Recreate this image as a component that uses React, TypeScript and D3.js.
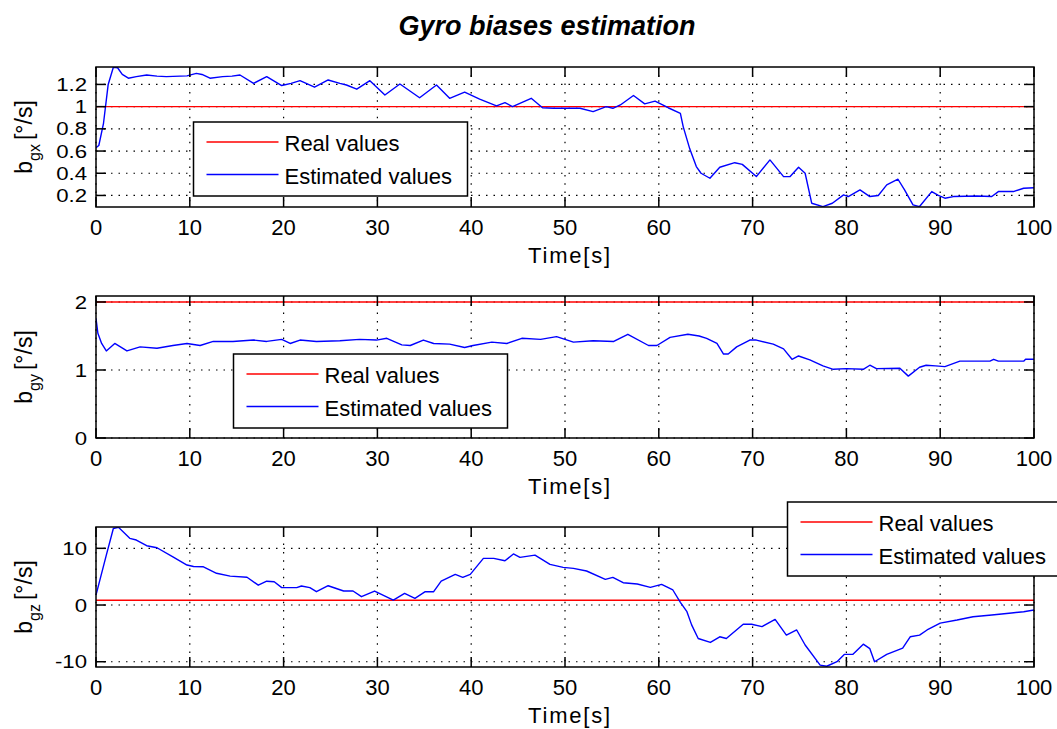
import React from "react";
import * as d3 from "d3";

const timeTicks = [0, 10, 20, 30, 40, 50, 60, 70, 80, 90, 100];
const gxTicks = [0.2, 0.4, 0.6, 0.8, 1, 1.2];
const gyTicks = [0, 1, 2];
const gzTicks = [-10, 0, 10];

const realGx = 1;
const realGy = 2;
const realGz = 0.85;

const estGx: [number, number][] = [
  [0, 0.63], [0.3, 0.65], [0.8, 0.85], [1.3, 1.2], [1.85, 1.355], [2.3, 1.35], [2.8, 1.29], [3.45, 1.256],
  [4.3, 1.27], [5.4, 1.285], [6.5, 1.275], [7.5, 1.27], [9.7, 1.277], [10.7, 1.3], [11.3, 1.29], [12.15, 1.256],
  [13.5, 1.27], [14.5, 1.275], [15.35, 1.285], [16.8, 1.21], [18.2, 1.27], [19.8, 1.19], [20.8, 1.21], [21.75, 1.234],
  [23.3, 1.175], [24.75, 1.24], [26, 1.21], [26.7, 1.195], [27.8, 1.157], [29.2, 1.234], [30.8, 1.105], [32.4, 1.204],
  [34.5, 1.08], [36.3, 1.195], [37.7, 1.075], [39.3, 1.13], [40.9, 1.067], [42.7, 1.006], [43.6, 1.036], [44.4, 1.0],
  [46.4, 1.075], [47.6, 0.99], [48.8, 0.985], [51.6, 0.985], [53, 0.955], [54.4, 1.0], [55.1, 0.985], [55.9, 1.015],
  [57.3, 1.1], [58.5, 1.025], [59.6, 1.05], [61, 0.99], [62.3, 0.94], [62.6, 0.82], [63.3, 0.62], [64, 0.46],
  [64.5, 0.4], [65.45, 0.355], [66.5, 0.454], [68.1, 0.495], [68.9, 0.48], [70.4, 0.37], [71.85, 0.52], [73.3, 0.37],
  [74, 0.37], [74.9, 0.454], [75.6, 0.4], [76.3, 0.13], [77.5, 0.1], [78.5, 0.13], [79.7, 0.205], [80.2, 0.19],
  [81.45, 0.25], [82.5, 0.19], [83.4, 0.2], [84.3, 0.295], [85.5, 0.346], [86.2, 0.25], [87.1, 0.115], [87.8, 0.1],
  [89.1, 0.235], [89.8, 0.2], [90.5, 0.175], [91.4, 0.19], [93.9, 0.195], [95.5, 0.19], [96.2, 0.235], [97.8, 0.235],
  [98.9, 0.265], [100, 0.27],
];

const estGy: [number, number][] = [
  [0, 1.76], [0.2, 1.54], [0.6, 1.39], [1.1, 1.28], [2, 1.39], [3.3, 1.28], [4.7, 1.34], [6.5, 1.32],
  [8.2, 1.36], [9.7, 1.39], [11.1, 1.36], [12.5, 1.42], [14.6, 1.42], [16.8, 1.44], [18.2, 1.42], [19.8, 1.45],
  [20.7, 1.39], [21.75, 1.44], [23.5, 1.42], [26, 1.43], [28.1, 1.45], [29.9, 1.44], [31, 1.466], [32.6, 1.37],
  [33.5, 1.36], [34.9, 1.44], [36, 1.39], [37.7, 1.38], [39.3, 1.33], [40.2, 1.36], [42.2, 1.41], [43.8, 1.39],
  [45.4, 1.466], [47.4, 1.45], [49.1, 1.49], [50.9, 1.41], [53, 1.43], [55.2, 1.42], [56.7, 1.525], [58.9, 1.36],
  [59.8, 1.36], [61.2, 1.48], [63.1, 1.525], [64.3, 1.5], [65.1, 1.466], [66.2, 1.39], [66.9, 1.235], [67.4, 1.235],
  [68.3, 1.34], [69.7, 1.44], [70.4, 1.44], [72.2, 1.38], [73.3, 1.31], [74.2, 1.157], [74.9, 1.206], [76.1, 1.15],
  [77.5, 1.06], [78.6, 1.01], [80, 1.02], [81.8, 1.01], [82.5, 1.07], [83.2, 1.02], [85.7, 1.025], [86.6, 0.91],
  [87.8, 1.04], [88.5, 1.07], [89.5, 1.06], [90.5, 1.05], [92.1, 1.13], [95.3, 1.13], [95.7, 1.157], [96.2, 1.13],
  [98.9, 1.13], [99.1, 1.157], [100, 1.157],
];

const estGz: [number, number][] = [
  [0, 1.76], [1.1, 8.8], [1.85, 13.5], [2.4, 13.7], [3.6, 11.76], [4.3, 11.46], [5.4, 10.46], [6.5, 10.1],
  [8.2, 8.5], [9.7, 7.05], [10.4, 6.8], [11.4, 6.76], [12.85, 5.6], [14.3, 5.1], [16.1, 4.9], [17.3, 3.5],
  [18.2, 4.2], [19.0, 4.1], [19.8, 3.06], [21.4, 3.06], [21.9, 3.35], [22.8, 3.06], [23.5, 2.35], [24.75, 3.4],
  [26.4, 2.47], [27.4, 2.47], [28.3, 1.47], [29.7, 2.47], [31.7, 0.88], [32.9, 2.06], [34, 1.18], [35.1, 2.35],
  [36, 2.35], [36.8, 4.23], [38.3, 5.4], [39.1, 4.88], [39.9, 5.4], [41.3, 8.23], [42.4, 8.23], [43.6, 7.8],
  [44.5, 9.0], [45.2, 8.4], [46.8, 8.8], [48.4, 7.17], [49.8, 6.64], [50.9, 6.47], [52.3, 6.0], [54.3, 4.53],
  [55.1, 4.88], [56.2, 3.93], [57.7, 3.7], [59.1, 3.12], [60.3, 3.65], [61.5, 2.65], [62.3, 0.47], [63, -1.18],
  [63.5, -3.5], [64.2, -5.9], [65.5, -6.6], [66.5, -5.6], [67.2, -5.9], [69, -3.4], [69.9, -3.4], [71, -3.8],
  [72.4, -2.53], [73.6, -5.3], [74.7, -4.4], [75.6, -7.05], [77.2, -10.6], [77.9, -10.8], [79, -10], [79.8, -8.7],
  [80.7, -8.7], [81.8, -6.9], [82.5, -7.7], [83.0, -10], [84.3, -8.7], [86, -7.6], [86.8, -5.6], [87.8, -5.3],
  [88.6, -4.4], [90, -3.2], [91.8, -2.65], [93.5, -2.06], [95.5, -1.76], [97.6, -1.4], [98.9, -1.18], [100, -0.88],
];

const legendLabels = ["Real values", "Estimated values"];

const W = 1057;
const H = 729;
const LEFT = 96;
const RIGHT = 1034;
const FONT = "'Liberation Sans', Arial, Helvetica, sans-serif";

type PanelProps = {
  id: string;
  top: number;
  bottom: number;
  yDomain: [number, number];
  yTicks: number[];
  real: number;
  est: [number, number][];
  sub: string;
  legend: { x: number; y: number; w: number };
};

function Panel({ id, top, bottom, yDomain, yTicks, real, est, sub, legend }: PanelProps) {
  const x = d3.scaleLinear().domain([0, 100]).range([LEFT, RIGHT]);
  const y = d3.scaleLinear().domain(yDomain).range([bottom, top]);
  const line = d3
    .line<[number, number]>()
    .x((d) => x(d[0]))
    .y((d) => y(d[1]));
  const realData: [number, number][] = [
    [0, real],
    [100, real],
  ];
  const tick = 10;
  const midY = (top + bottom) / 2;
  return (
    <g>
      <defs>
        <clipPath id={`clip-${id}`}>
          <rect x={LEFT} y={top} width={RIGHT - LEFT} height={bottom - top} />
        </clipPath>
      </defs>
      <rect x={LEFT} y={top} width={RIGHT - LEFT} height={bottom - top} fill="#fff" />
      {timeTicks.map((t) => (
        <line key={`gx${t}`} x1={x(t)} x2={x(t)} y1={top} y2={bottom} stroke="#000" strokeWidth={1.2} strokeDasharray="1.5,6.8" />
      ))}
      {yTicks.map((v) => (
        <line key={`gy${v}`} x1={LEFT} x2={RIGHT} y1={y(v)} y2={y(v)} stroke="#000" strokeWidth={1.2} strokeDasharray="1.5,6" />
      ))}
      <g clipPath={`url(#clip-${id})`}>
        <path d={line(realData) || ""} fill="none" stroke="#ff0000" strokeWidth={1.4} />
        <path d={line(est) || ""} fill="none" stroke="#0000ff" strokeWidth={1.4} strokeLinejoin="round" />
      </g>
      {timeTicks.map((t) => (
        <g key={`tx${t}`}>
          <line x1={x(t)} x2={x(t)} y1={bottom} y2={bottom - tick} stroke="#000" strokeWidth={1.5} />
          <line x1={x(t)} x2={x(t)} y1={top} y2={top + tick} stroke="#000" strokeWidth={1.5} />
          <text x={x(t)} y={bottom + 28} textAnchor="middle" fontSize={22} fontFamily={FONT} fill="#000">
            {t}
          </text>
        </g>
      ))}
      {yTicks.map((v) => (
        <g key={`ty${v}`}>
          <line x1={LEFT} x2={LEFT + tick} y1={y(v)} y2={y(v)} stroke="#000" strokeWidth={1.5} />
          <line x1={RIGHT} x2={RIGHT - tick} y1={y(v)} y2={y(v)} stroke="#000" strokeWidth={1.5} />
          <text x={LEFT - 9} y={y(v)} dy="0.36em" textAnchor="end" fontSize={18.5} fontFamily={FONT} fill="#000" transform={`translate(${LEFT - 9},0) scale(1.2,1) translate(${-(LEFT - 9)},0)`}>
            {String(v)}
          </text>
        </g>
      ))}
      <rect x={LEFT} y={top} width={RIGHT - LEFT} height={bottom - top} fill="none" stroke="#000" strokeWidth={1.5} />
      <text x={570} y={bottom + 56} textAnchor="middle" fontSize={22} fontFamily={FONT} fill="#000" letterSpacing={1.8}>
        Time[s]
      </text>
      <text transform={`translate(32,${midY}) rotate(-90)`} textAnchor="middle" fontSize={23} fontFamily={FONT} fill="#000">
        b
        <tspan fontSize={16} dy={8}>{sub}</tspan>
        <tspan dy={-8} dx={4}>[°/s]</tspan>
      </text>
      <g transform={`translate(${legend.x},${legend.y})`}>
        <rect x={0} y={0} width={legend.w} height={74} fill="#fff" stroke="#000" strokeWidth={1.5} />
        <line x1={13} x2={85} y1={20} y2={20} stroke="#ff0000" strokeWidth={1.4} />
        <text x={91} y={28.7} fontSize={22} fontFamily={FONT} fill="#000">
          {legendLabels[0]}
        </text>
        <line x1={13} x2={85} y1={52.5} y2={52.5} stroke="#0000ff" strokeWidth={1.4} />
        <text x={91} y={62.3} fontSize={22} fontFamily={FONT} fill="#000">
          {legendLabels[1]}
        </text>
      </g>
    </g>
  );
}

export default function App() {
  return (
    <div style={{ position: "absolute", left: 0, top: 0 }}>
      <svg width={W} height={H} viewBox={`0 0 ${W} ${H}`} style={{ display: "block", background: "#fff" }}>
        <rect x={0} y={0} width={W} height={H} fill="#fff" />
        <text x={547} y={35} textAnchor="middle" fontSize={27} fontWeight="bold" fontStyle="italic" fontFamily={FONT} fill="#000">
          Gyro biases estimation
        </text>
        <Panel id="gx" top={67} bottom={207} yDomain={[0.096, 1.357]} yTicks={gxTicks} real={realGx} est={estGx} sub="gx" legend={{ x: 193.5, y: 122, w: 274 }} />
        <Panel id="gy" top={296} bottom={438} yDomain={[0, 2.088]} yTicks={gyTicks} real={realGy} est={estGy} sub="gy" legend={{ x: 233.5, y: 354, w: 274 }} />
        <Panel id="gz" top={527} bottom={667} yDomain={[-10.93, 13.76]} yTicks={gzTicks} real={realGz} est={estGz} sub="gz" legend={{ x: 787.5, y: 502, w: 272 }} />
      </svg>
    </div>
  );
}
